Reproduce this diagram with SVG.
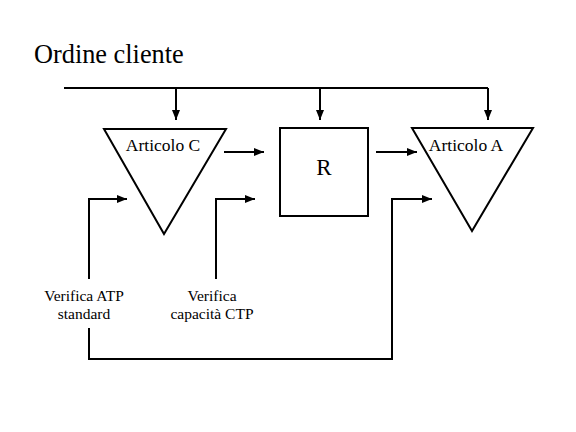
<svg xmlns="http://www.w3.org/2000/svg" width="576" height="432" viewBox="0 0 576 432">
<style>
.ln{fill:none;stroke:#000;stroke-width:2}
.sh{fill:#fff;stroke:#000;stroke-width:2}
text{font-family:"Liberation Serif","Times New Roman",serif;fill:#000}
.lbl{font-size:17.5px;text-anchor:middle}
.sm{font-size:15.5px;text-anchor:middle}
</style>
<defs>
<marker id="ah" viewBox="0 0 10 8" refX="10" refY="4" markerWidth="10" markerHeight="8" markerUnits="userSpaceOnUse" orient="auto">
<path d="M0,0 L10,4 L0,8 Z" fill="#000"/>
</marker>
</defs>
<rect width="576" height="432" fill="#fff"/>
<text x="34" y="63" style="font-size:26.3px">Ordine cliente</text>
<g id="nodeC">
<polygon class="sh" points="104,129 226,129 164,234"/>
<text class="lbl" x="163" y="151">Articolo C</text>
</g>
<g id="nodeR">
<rect class="sh" x="280" y="128" width="88" height="88"/>
<text x="324" y="175" style="font-size:23px;text-anchor:middle">R</text>
</g>
<g id="nodeA">
<polygon class="sh" points="412,128 533,128 472,231"/>
<text class="lbl" x="466" y="151">Articolo A</text>
</g>
<g id="labels">
<text class="sm" x="84" y="301">Verifica ATP</text>
<text class="sm" x="84" y="319">standard</text>
<text class="sm" x="212" y="301">Verifica</text>
<text class="sm" x="212" y="319">capacità CTP</text>
</g>
<g id="connectors">
<path class="ln" d="M64,88 H488"/>
<path class="ln" d="M176,88 V120" marker-end="url(#ah)"/>
<path class="ln" d="M320,88 V120" marker-end="url(#ah)"/>
<path class="ln" d="M488,88 V120" marker-end="url(#ah)"/>
<path class="ln" d="M224,152 H264" marker-end="url(#ah)"/>
<path class="ln" d="M376,152 H417" marker-end="url(#ah)"/>
<path class="ln" d="M89,279 V199 H127" marker-end="url(#ah)"/>
<path class="ln" d="M216,279 V199 H255" marker-end="url(#ah)"/>
<path class="ln" d="M89,328 V359 H392 V199 H432" marker-end="url(#ah)"/>
</g>
</svg>
